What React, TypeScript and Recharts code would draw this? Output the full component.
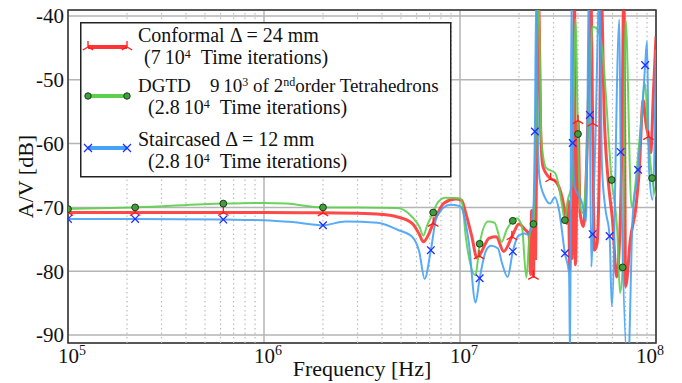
import React from "react";
import { LineChart, Line, XAxis, YAxis, CartesianGrid, ReferenceLine, ReferenceArea } from "recharts";

// Conformal, dx = 24 mm
const confFreq = [1e5, 2.2e5, 6.2e5, 1e6, 2e6, 3e6, 4e6, 4.8e6, 5.7e6, 6.2e6, 6.5e6, 6.9e6, 7.3e6, 8.3e6, 9.5e6, 1.02e7, 1.07e7, 1.15e7, 1.22e7, 1.25e7, 1.29e7, 1.41e7, 1.53e7, 1.67e7, 1.84e7, 2.0e7, 2.15e7, 2.25e7, 2.29e7, 2.32e7, 2.37e7, 2.4e7, 2.43e7, 2.47e7, 2.5e7, 2.54e7, 2.58e7, 2.65e7, 2.9e7, 3.05e7, 3.2e7, 3.4e7, 3.5e7, 3.58e7, 3.63e7, 3.68e7, 3.73e7, 3.79e7, 3.84e7, 3.88e7, 4.0e7, 4.1e7, 4.25e7, 4.4e7, 4.55e7, 4.65e7, 4.75e7, 4.85e7, 5.0e7, 5.15e7, 5.25e7, 5.45e7, 5.7e7, 6.0e7, 6.3e7, 6.5e7, 6.7e7, 6.85e7, 7.0e7, 7.4e7, 7.9e7, 8.2e7, 8.6e7, 8.9e7, 9.15e7, 9.4e7, 9.7e7, 1e8];
const confVal = [-70.8, -70.8, -70.8, -70.8, -70.85, -70.9, -71.1, -71.5, -72.5, -74.2, -75.4, -74.3, -72.5, -69.3, -68.7, -68.9, -70.9, -74.6, -77.9, -77.6, -76.9, -74.8, -74.6, -76.9, -74.6, -72.6, -73.5, -74.2, -80.5, -70.5, -80.8, -71, -78, -55, -36, -42, -58, -63.6, -65.5, -65.8, -66.8, -70, -72.5, -69, -79.8, -70.5, -78, -60, -36, -79, -56.4, -70.9, -73, -66, -50, -36, -56.8, -76.7, -75.7, -62, -36, -56, -65.7, -72, -80.9, -76, -60, -36, -82.4, -75, -69.9, -64.6, -53.2, -57, -58.9, -61.4, -52, -43.2];
const confMarks = [1e5, 2.2e5, 6.2e5, 2e6, 7.3e6, 1.25e7, 1.84e7, 2.37e7, 2.9e7, 4.0e7, 4.75e7, 9.15e7];

// DGTD, 2nd order tetrahedrons
const dgtdFreq = [1e5, 2.2e5, 6.2e5, 1e6, 1.3e6, 2e6, 3e6, 4.8e6, 5.7e6, 6.2e6, 6.5e6, 6.8e6, 7.3e6, 7.6e6, 8.4e6, 1e7, 1.03e7, 1.07e7, 1.2e7, 1.26e7, 1.39e7, 1.5e7, 1.63e7, 1.73e7, 1.86e7, 1.95e7, 2.07e7, 2.18e7, 2.27e7, 2.37e7, 2.43e7, 2.5e7, 2.55e7, 2.6e7, 2.75e7, 3.05e7, 3.2e7, 3.3e7, 3.43e7, 3.55e7, 3.7e7, 3.82e7, 3.88e7, 4.0e7, 4.1e7, 4.25e7, 4.5e7, 4.75e7, 5.0e7, 5.3e7, 5.94e7, 6.35e7, 6.55e7, 6.76e7, 7.0e7, 7.5e7, 8.3e7, 8.8e7, 9.1e7, 9.55e7, 1e8];
const dgtdVal = [-70.25, -70.0, -69.4, -69.3, -69.4, -70.0, -70.0, -70.1, -71.5, -73.0, -74.4, -72.8, -70.8, -69.5, -68.5, -68.6, -69.6, -74.6, -80.6, -75.7, -72.2, -72.4, -75.4, -73.5, -72.1, -71.7, -73.0, -81.0, -74.0, -72.6, -60, -36, -45, -59.4, -63.8, -64.6, -66.8, -69.3, -72.0, -68.8, -66.8, -50, -40.5, -58.5, -69.9, -70.9, -58, -41.7, -42, -45, -65.7, -74, -83.4, -79.4, -40.6, -69.9, -58.4, -50.6, -58.4, -65.4, -68.3];
const dgtdMarks = [1e5, 2.2e5, 6.2e5, 2e6, 7.3e6, 1.26e7, 1.86e7, 2.37e7, 3.43e7, 4.0e7, 5.94e7, 6.76e7, 9.55e7];

// Staircased, dx = 12 mm
const stairFreq = [1e5, 2.2e5, 6.2e5, 1e6, 1.4e6, 2e6, 2.6e6, 3.8e6, 4.8e6, 5.7e6, 6.2e6, 6.6e6, 7.1e6, 7.6e6, 8.9e6, 1e7, 1.03e7, 1.11e7, 1.2e7, 1.26e7, 1.36e7, 1.44e7, 1.56e7, 1.64e7, 1.75e7, 1.86e7, 1.98e7, 2.14e7, 2.22e7, 2.3e7, 2.37e7, 2.41e7, 2.45e7, 2.5e7, 2.55e7, 2.7e7, 2.88e7, 3.05e7, 3.2e7, 3.43e7, 3.6e7, 3.65e7, 3.7e7, 3.76e7, 3.85e7, 4.2e7, 4.4e7, 4.55e7, 4.6e7, 4.68e7, 4.75e7, 4.9e7, 5.15e7, 5.3e7, 5.5e7, 5.8e7, 5.95e7, 6.5e7, 6.6e7, 7.2e7, 7.6e7, 8.1e7, 8.4e7, 8.8e7, 9.0e7, 9.2e7, 9.6e7, 1e8];
const stairVal = [-71.8, -71.8, -71.9, -72.0, -72.3, -72.8, -72.2, -72.4, -73.5, -74.6, -77, -81.2, -76.7, -71.5, -69.6, -69.8, -70.4, -75.6, -84.9, -81.1, -76.7, -76.0, -76.4, -78.8, -80.9, -76.9, -74.5, -74.1, -74.3, -73.2, -70, -58.1, -36, -60, -65.7, -68.3, -69.4, -68.4, -70.4, -77.2, -80.3, -95, -36, -59.9, -66.8, -69.3, -72.2, -36, -55.5, -79.3, -74.2, -60, -36, -63.6, -69.9, -74.5, -85.5, -40.6, -61.3, -95, -71.5, -64.1, -57.4, -47.7, -44.0, -63.6, -68.8, -45.3];
const stairMarks = [1e5, 2.2e5, 6.2e5, 2e6, 7.1e6, 1.26e7, 1.86e7, 2.41e7, 3.43e7, 3.76e7, 4.6e7, 4.75e7, 5.8e7, 6.6e7, 8.1e7, 8.8e7];

const xTicks = [1e5, 1e6, 1e7, 1e8];
const yTicks = [-90, -80, -70, -60, -50, -40];

const FONT = "Liberation Serif, DejaVu Serif, Noto Serif, serif";
const RED = "#ff3535";
const GREEN = "#5ccf4c";
const BLUE = "#46a2f6";

const rows = (fs: number[], vs: number[], marks: number[]) =>
  fs.map((f, i) => ({ f, v: vs[i], m: marks.includes(f) }));

const confData = rows(confFreq, confVal, confMarks);
const dgtdData = rows(dgtdFreq, dgtdVal, dgtdMarks);
const stairData = rows(stairFreq, stairVal, stairMarks);

// minor decade gridlines 2..9 x 10^n
const minorLines: number[] = [];
for (let n = 5; n < 8; n++) for (let k = 2; k < 10; k++) minorLines.push(k * Math.pow(10, n));

const triPath = (cx: number, cy: number, s: number) =>
  `M${cx},${cy}L${cx},${cy - s}M${cx},${cy}L${cx - s * 0.87},${cy + s * 0.5}M${cx},${cy}L${cx + s * 0.87},${cy + s * 0.5}`;
const crossPath = (cx: number, cy: number, s: number) =>
  `M${cx - s},${cy - s}L${cx + s},${cy + s}M${cx - s},${cy + s}L${cx + s},${cy - s}`;

const triDot = (p: any) => {
  const { cx, cy, payload, index } = p;
  if (!payload?.m || cx == null) return <g key={`t${index}`} />;
  return <path key={`t${index}`} d={triPath(cx, cy, 6)} stroke="#ff1a1a" strokeWidth={1.3} fill="none" />;
};
const circleDot = (p: any) => {
  const { cx, cy, payload, index } = p;
  if (!payload?.m || cx == null) return <g key={`c${index}`} />;
  return <circle key={`c${index}`} cx={cx} cy={cy} r={3.4} fill="#3f9f3a" stroke="#1d3b1a" strokeWidth={1} />;
};
const crossDot = (p: any) => {
  const { cx, cy, payload, index } = p;
  if (!payload?.m || cx == null) return <g key={`x${index}`} />;
  return <path key={`x${index}`} d={crossPath(cx, cy, 3.8)} stroke="#1f2fff" strokeWidth={1.3} fill="none" />;
};

const XTick = (p: any) => {
  const { x, y, payload } = p;
  const e = Math.round(Math.log10(payload.value));
  return (
    <text x={x + 4} y={y + 18} textAnchor="middle" style={{ fontFamily: FONT, fontSize: 21 }} fill="#111">
      <tspan>10</tspan>
      <tspan dy={-8} style={{ fontSize: 14 }}>{e}</tspan>
    </text>
  );
};

const Sup = ({ children }: { children: React.ReactNode }) => (
  <tspan dy={-6} style={{ fontSize: 12 }}>{children}</tspan>
);

function LegendBox() {
  const ts = { style: { fontFamily: FONT, fontSize: 20 }, fill: "#111" };
  return (
    <svg width={372} height={156} style={{ position: "absolute", left: 80, top: 22 }}>
      <rect x={0.75} y={0.75} width={370} height={154} fill="#fff" stroke="#222" strokeWidth={1.5} />
      <line x1={8} y1={25} x2={47} y2={25} stroke={RED} strokeWidth={4} />
      <path d={triPath(8, 25, 6) + triPath(47, 25, 6)} stroke="#ff1a1a" strokeWidth={1.3} fill="none" />
      <text x={58} y={20} {...ts}>Conformal Δ = 24 mm</text>
      <text x={64} y={42} {...ts}>
        (7{"\u2009"}10<Sup>4</Sup><tspan dy={6}>{"\u2002"}Time iterations)</tspan>
      </text>

      <line x1={8} y1={74} x2={47} y2={74} stroke={GREEN} strokeWidth={4} />
      <circle cx={8} cy={74} r={3.2} fill="#3f9f3a" stroke="#1d3b1a" strokeWidth={1} />
      <circle cx={47} cy={74} r={3.2} fill="#3f9f3a" stroke="#1d3b1a" strokeWidth={1} />
      <text x={58} y={70} style={{ fontFamily: FONT, fontSize: 19 }} fill="#111">
        DGTD<tspan x={130}>9{"\u2009"}10</tspan><Sup>3</Sup><tspan dy={6}> of 2</tspan><Sup>nd</Sup>
        <tspan dy={6}>order Tetrahedrons</tspan>
      </text>
      <text x={68} y={92} {...ts}>
        (2.8{"\u2009"}10<Sup>4</Sup><tspan dy={6}>{"\u2002"}Time iterations)</tspan>
      </text>

      <line x1={8} y1={126} x2={47} y2={126} stroke={BLUE} strokeWidth={4} />
      <path d={crossPath(8, 126, 4) + crossPath(47, 126, 4)} stroke="#1f2fff" strokeWidth={1.3} fill="none" />
      <text x={58} y={124} {...ts}>Staircased Δ = 12 mm</text>
      <text x={68} y={146} {...ts}>
        (2.8{"\u2009"}10<Sup>4</Sup><tspan dy={6}>{"\u2002"}Time iterations)</tspan>
      </text>
    </svg>
  );
}

export default function App() {
  return (
    <div style={{ position: "absolute", left: 0, top: 0, width: 682, height: 383, background: "#fff", fontFamily: FONT }}>
      <LineChart width={682} height={383} margin={{ top: 10, right: 26, bottom: 0, left: 0 }} style={{ fontFamily: FONT }}>
        <CartesianGrid stroke="#b4b4b4" strokeWidth={1.5} />
        {minorLines.map((f) => (
          <ReferenceLine key={f} x={f} stroke="#bcbcbc" strokeWidth={1.2} strokeDasharray="1.5 3" />
        ))}
        <XAxis
          dataKey="f"
          type="number"
          scale="log"
          domain={[1e5, 1e8]}
          allowDataOverflow
          ticks={xTicks}
          tick={<XTick />}
          tickLine={false}
          axisLine={false}
          tickSize={0}
          tickMargin={2}
          height={40}
          label={{ value: "Frequency [Hz]", position: "insideBottom", offset: 7, style: { fontFamily: FONT, fontSize: 22, fill: "#111" } }}
        />
        <YAxis
          type="number"
          domain={[-91.25, -39.06]}
          allowDataOverflow
          ticks={yTicks}
          tickLine={false}
          axisLine={false}
          tickSize={0}
          tickMargin={4}
          width={68}
          tick={{ style: { fontFamily: FONT, fontSize: 21 }, fill: "#111" }}
          tickFormatter={(v: number) => `${v}`}
          label={{ value: "A/V [dB]", angle: -90, position: "insideLeft", offset: 25, style: { fontFamily: FONT, fontSize: 22, fill: "#111", textAnchor: "middle" } }}
        />
        <Line data={confData} dataKey="v" type="monotone" stroke={RED} strokeWidth={3} strokeOpacity={0.9} dot={triDot} activeDot={false} isAnimationActive={false} />
        <Line data={dgtdData} dataKey="v" type="monotone" stroke={GREEN} strokeWidth={2} strokeOpacity={0.9} dot={circleDot} activeDot={false} isAnimationActive={false} />
        <Line data={stairData} dataKey="v" type="monotone" stroke={BLUE} strokeWidth={2} strokeOpacity={0.9} dot={crossDot} activeDot={false} isAnimationActive={false} />
        <ReferenceArea x1={1e5} x2={1e8} y1={-91.25} y2={-39.06} fill="none" stroke="#333" strokeWidth={1.5} />
      </LineChart>
      <LegendBox />
    </div>
  );
}
